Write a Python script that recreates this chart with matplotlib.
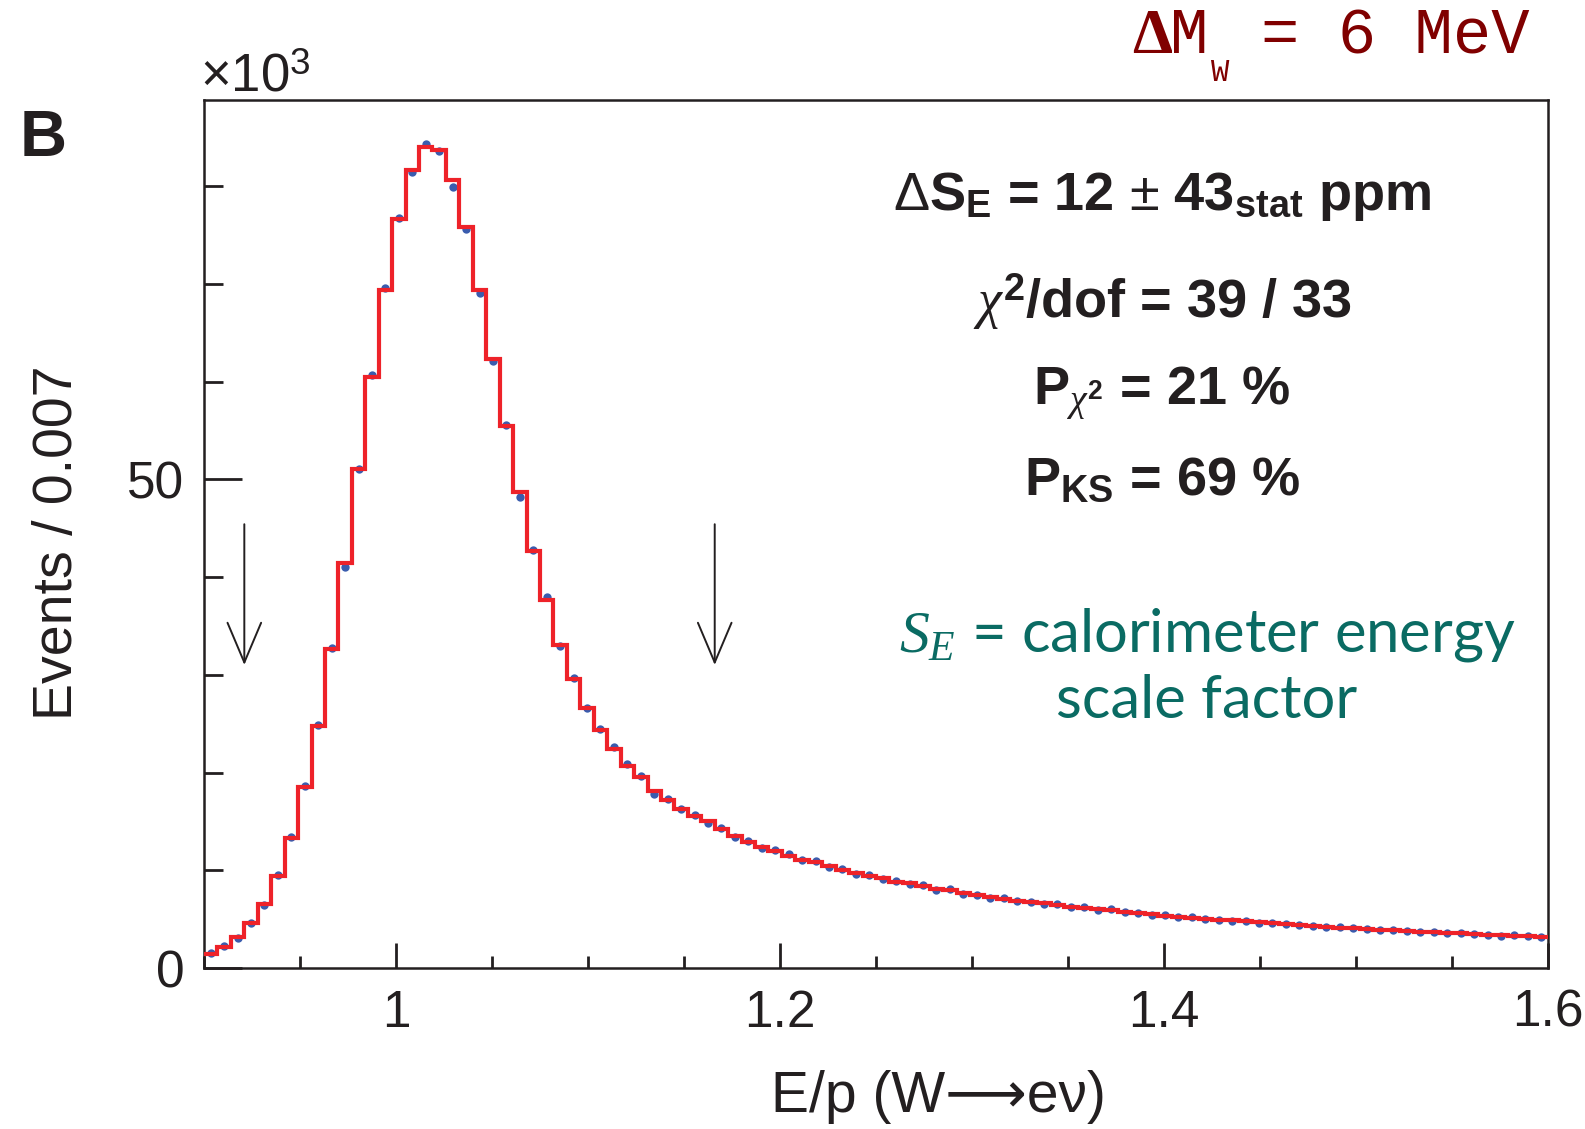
import numpy as np
import matplotlib.pyplot as plt
from matplotlib.ticker import FixedLocator, FixedFormatter, MultipleLocator

# histogram binning: E/p from 0.9 to 1.6 in bins of 0.007
x_min = 0.9
x_max = 1.6
bin_width = 0.007

# fit (template) prediction, thousands of events per bin
model = [1.43, 2.18, 3.14, 4.57, 6.55, 9.44, 13.3, 18.5, 24.8, 32.6, 41.4,
         51.1, 60.5, 69.4, 76.6, 81.6, 84.0, 83.7, 80.6, 75.8, 69.4, 62.3,
         55.4, 48.7, 42.7, 37.6, 33.0, 29.6, 26.6, 24.3, 22.4, 20.7, 19.5, 18.1, 17.2, 16.3, 15.5,
         15.0, 14.2, 13.5, 12.9, 12.4, 12.0, 11.5, 11.1, 10.8, 10.4,
         10.0, 9.75, 9.41, 9.2, 8.83, 8.66, 8.42, 8.11, 7.98, 7.7,
         7.43, 7.29, 7.09, 6.88, 6.75, 6.62, 6.48, 6.27, 6.17, 6.0,
         5.93, 5.76,
         5.6, 5.49, 5.35, 5.25, 5.15, 5.04, 4.94, 4.88, 4.78, 4.67,
         4.57, 4.47, 4.37, 4.26, 4.19, 4.12, 4.06, 3.99, 3.92, 3.85,
         3.78, 3.71, 3.65, 3.58, 3.55, 3.48, 3.41, 3.34, 3.31, 3.27, 3.2]

# measured data, thousands of events per bin
data = [1.55, 2.25, 3.05, 4.6, 6.45, 9.5, 13.4, 18.6, 24.9, 32.7, 41.0,
        51.1, 60.7, 69.6, 76.7, 81.4, 84.3, 83.6, 79.9, 75.6, 69.1, 62.1,
        55.5, 48.2, 42.8, 38.0, 32.9, 29.7, 26.6, 24.4, 22.6, 20.9, 19.6, 17.8, 17.3, 16.3, 15.7,
        14.8, 14.3, 13.4, 13.0, 12.3, 12.1, 11.7, 11.0, 10.9, 10.3,
        10.1, 9.6, 9.5, 9.1, 8.9, 8.6, 8.5, 8.0, 8.1, 7.6,
        7.5, 7.2, 7.15, 6.85, 6.8, 6.55, 6.5, 6.2, 6.25, 5.95,
        6.0, 5.7,
        5.65, 5.45, 5.4, 5.2, 5.2, 5.0, 4.95, 4.85, 4.8, 4.6,
        4.6, 4.5, 4.35, 4.3, 4.15, 4.15, 4.05, 4.0, 3.9, 3.85,
        3.8, 3.68, 3.67, 3.55, 3.57, 3.47, 3.42, 3.32, 3.34, 3.25, 3.22]

# fit window arrows (E/p position, arrow top, arrow tip)
arrow_x = [0.921, 1.166]
arrow_top = 45.4
arrow_tip = 31.0

xticks_major = [1.0, 1.2, 1.4, 1.6]
xtick_labels = ['1', '1.2', '1.4', '1.6']
yticks_major = [0, 50]
ytick_labels = ['0', '50']

stats_lines = [r'$\mathrm{\Delta}$S$_\mathbf{E}$ = 12 $\pm$ 43$_\mathbf{stat}$ ppm',
               r'$\chi^\mathbf{2}$/dof = 39 / 33',
               r'P$_{\chi^\mathbf{2}}$ = 21 %',
               r'P$_\mathbf{KS}$ = 69 %']

RED = '#ee2229'
BLUE = '#3a5cae'
TEAL = '#0a6b63'
DARKRED = '#800000'
INK = '#231f20'

plt.rcParams['font.family'] = ['Liberation Sans', 'DejaVu Sans']
plt.rcParams['mathtext.fontset'] = 'custom'
plt.rcParams['mathtext.rm'] = 'Liberation Sans'
plt.rcParams['mathtext.bf'] = 'Liberation Sans:bold'
plt.rcParams['mathtext.it'] = 'Liberation Serif:italic'

W, H = 1585, 1129
fig = plt.figure(figsize=(W / 100, H / 100), dpi=100)
ax = fig.add_axes([204 / W, 1 - 968 / H, (1548 - 204) / W, (968 - 100) / H])

edges = x_min + bin_width * np.arange(len(model) + 1)
centers = 0.5 * (edges[:-1] + edges[1:])

ax.stairs(model, edges, baseline=None, color=RED, lw=3.0, zorder=3)
ax.plot(centers, data, 'o', ms=6, color=BLUE, mec='none', zorder=2)

for xa in arrow_x:
    ax.annotate('', xy=(xa, arrow_tip), xytext=(xa, arrow_top),
                arrowprops=dict(arrowstyle='->,head_length=1.3,head_width=0.55',
                                color=INK, lw=1.4, shrinkA=0, shrinkB=0,
                                mutation_scale=22))

ax.set_xlim(x_min, x_max)
ax.set_ylim(0, 88.8)

ax.xaxis.set_major_locator(FixedLocator(xticks_major))
ax.xaxis.set_major_formatter(FixedFormatter(xtick_labels))
ax.xaxis.set_minor_locator(MultipleLocator(0.05))
ax.yaxis.set_major_locator(FixedLocator(yticks_major))
ax.yaxis.set_major_formatter(FixedFormatter(ytick_labels))
ax.yaxis.set_minor_locator(MultipleLocator(10))

ax.tick_params(axis='both', which='both', direction='in', width=2.0, color=INK,
               labelsize=37, labelcolor=INK)
ax.tick_params(axis='x', which='major', length=18, pad=15)
ax.tick_params(axis='x', which='minor', length=9)
ax.tick_params(axis='y', which='major', length=27, pad=14)
ax.tick_params(axis='y', which='minor', length=14)
for s in ax.spines.values():
    s.set_linewidth(1.8)
    s.set_color(INK)

fig.text(938 / W, 1 - 1097 / H, 'E/p (W\u27f6e\u03bd)', ha='center', va='center',
         fontsize=41, color=INK)
fig.text(58 / W, 1 - 543 / H, 'Events / 0.007', ha='center', va='center',
         rotation=90, fontsize=40, color=INK)
fig.text(200 / W, 1 - 92 / H, '\u00d710$^3$', ha='left', va='baseline',
         fontsize=38, color=INK)
fig.text(20 / W, 1 - 156 / H, 'B', ha='left', va='baseline',
         fontsize=47, fontweight='bold', color=INK)

# fit results
stats_y = [210, 318, 404, 495]
for line, yy in zip(stats_lines, stats_y):
    fig.text(1162 / W, 1 - yy / H, line, ha='center', va='baseline',
             fontsize=39, fontweight='bold', color=INK)

# scale factor definition
fig.text(1207 / W, 1 - 652 / H, r'$\mathit{S}_\mathit{E}$ = calorimeter energy',
         ha='center', va='baseline', fontsize=43, color=TEAL,
         family=['Lato', 'DejaVu Sans'])
fig.text(1207 / W, 1 - 718 / H, 'scale factor',
         ha='center', va='baseline', fontsize=43, color=TEAL,
         family=['Lato', 'DejaVu Sans'])

# top-right label
fig.text(1172 / W, 1 - 53 / H, '\u0394', ha='right', va='baseline', fontsize=46,
         fontweight='bold', color=DARKRED, family='Liberation Serif')
fig.text(1170 / W, 1 - 53 / H, 'M', ha='left', va='baseline', fontsize=46,
         color=DARKRED, family='Liberation Mono')
fig.text(1211 / W, 1 - 81 / H, 'W', ha='left', va='baseline', fontsize=22,
         color=DARKRED, family='Liberation Mono')
fig.text(1530 / W, 1 - 53 / H, '= 6 MeV', ha='right', va='baseline', fontsize=46,
         color=DARKRED, family='Liberation Mono')

fig.savefig('out.png', dpi=100, facecolor='white')
